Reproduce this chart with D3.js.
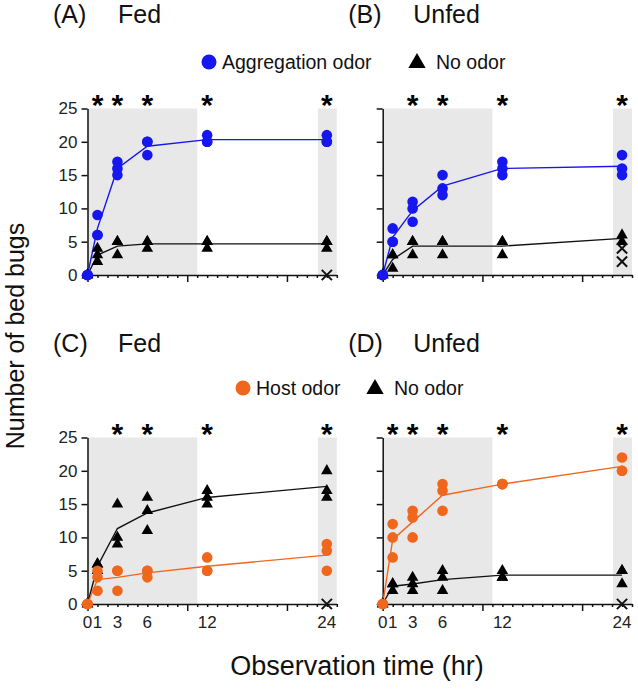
<!DOCTYPE html>
<html>
<head>
<meta charset="utf-8">
<script src="https://cdn.jsdelivr.net/npm/d3@7"></script>
<style>
  body { margin: 0; background: #fff; }
  text { font-family: "Liberation Sans", Arial, sans-serif; }
</style>
</head>
<body>
<script>
// observation times (hr)
const times = [0, 1, 3, 6, 12, 24];
const timeLabels = ["0", "1", "3", "6", "12", "24"];

// replicate counts per time point
const aggFed    = [[0,0,0],[9,6,6],[17,16,15],[20,20,18],[21,20,20],[21,20,20]];
const noOdorA   = [[0,0,0],[4,3,2],[5,5,3],[5,5,4],[5,5,4],[5,5,4]];
const crossA    = [0];
const aggUnfed  = [[0,0,0],[7,5,5],[11,10,8],[15,13,12],[17,16,15],[18,16,15]];
const noOdorB   = [[0,0,0],[3,3,1],[5,5,3],[5,5,3],[5,5,3],[6,5]];
const crossB    = [4, 2];
const hostFed   = [[0,0,0],[5,4,2],[5,5,2],[5,5,4],[7,5,5],[9,8,5]];
const noOdorC   = [[0,0,0],[6,6,5],[15,10,9],[16,14,11],[17,16,15],[20,17,16]];
const crossC    = [0];
const hostUnfed = [[0,0,0],[12,10,7],[14,13,10],[18,17,14],[18,18,18],[22,20,20]];
const noOdorD   = [[0,0,0],[3,3,2],[4,3,2],[5,4,2],[5,4,4],[5,5,3]];
const crossD    = [0];

// significant time points
const starsA = [1, 3, 6, 12, 24];
const starsB = [3, 6, 12, 24];
const starsC = [3, 6, 12, 24];
const starsD = [1, 3, 6, 12, 24];

// shaded (dark) periods, hr
const shaded = [[0, 11], [23.1, 25]];

const blue = "#1616ee", orange = "#f0661c";

const svg = d3.select("body").append("svg")
    .attr("width", 638)
    .attr("height", 689);

const panels = [
  {id: "(A)", title: "Fed",   x0: 87.5,  y0: 275, odor: aggFed,    color: blue,   none: noOdorA, cross: crossA, stars: starsA, left: true,  bottom: false},
  {id: "(B)", title: "Unfed", x0: 382.7, y0: 275, odor: aggUnfed,  color: blue,   none: noOdorB, cross: crossB, stars: starsB, left: false, bottom: false},
  {id: "(C)", title: "Fed",   x0: 87.5,  y0: 604, odor: hostFed,   color: orange, none: noOdorC, cross: crossC, stars: starsC, left: true,  bottom: true},
  {id: "(D)", title: "Unfed", x0: 382.7, y0: 604, odor: hostUnfed, color: orange, none: noOdorD, cross: crossD, stars: starsD, left: false, bottom: true}
];

const pw = 249.3, ph = 166.5;
const tri = d3.symbol().type(d3.symbolTriangle).size(58);
const crossSym = d3.symbol().type(d3.symbolTimes).size(70);

panels.forEach(p => {
  const x = d3.scaleLinear().domain([0, 25]).range([p.x0, p.x0 + pw]);
  const y = d3.scaleLinear().domain([0, 25]).range([p.y0, p.y0 - ph]);
  const g = svg.append("g");

  // gray bands
  g.selectAll(".band").data(shaded).join("rect")
      .attr("x", d => x(d[0]))
      .attr("width", d => x(d[1]) - x(d[0]))
      .attr("y", y(25))
      .attr("height", y(0) - y(25))
      .attr("fill", "#e8e8e8");

  // y axis
  const ya = g.append("g")
      .attr("transform", `translate(${p.x0},0)`)
      .call(d3.axisLeft(y).tickValues([0, 5, 10, 15, 20, 25]).tickSize(6).tickSizeOuter(0).tickPadding(4)
        .tickFormat(p.left ? d3.format("d") : () => ""));
  ya.selectAll("text").style("font-size", "17px").attr("fill", "#222");

  // x axis, minor ticks every hour
  const xa = g.append("g")
      .attr("transform", `translate(0,${p.y0})`)
      .call(d3.axisBottom(x).tickValues(d3.range(0, 26)).tickSize(3).tickSizeOuter(0).tickFormat(() => ""));
  xa.selectAll(".tick line").attr("y2", d => d % 10 === 0 ? 7 : 3);
  g.selectAll(".domain, .tick line").attr("stroke", "#111").attr("stroke-width", 1.5);

  if (p.bottom) {
    g.selectAll(".xlab").data(times).join("text")
        .attr("x", d => x(d))
        .attr("y", p.y0 + 24)
        .attr("text-anchor", "middle")
        .style("font-size", "17px")
        .attr("fill", "#222")
        .text((d, i) => timeLabels[i]);
  }

  // panel title
  g.append("text").attr("x", p.x0 - 34.5).attr("y", p.y0 - 252)
      .style("font-size", "25px").attr("fill", "#111").text(p.id);
  g.append("text").attr("x", p.x0 + 30.5).attr("y", p.y0 - 252)
      .style("font-size", "25px").attr("fill", "#111").text(p.title);

  // asterisks
  g.selectAll(".star").data(p.stars).join("text")
      .attr("x", d => x(d))
      .attr("y", y(25) + 6)
      .attr("text-anchor", "middle")
      .style("font-size", "30px").style("font-weight", "bold")
      .text("*");

  // mean lines
  const line = d3.line().x(d => x(d.t)).y(d => y(d.m));
  const meanOf = arr => arr.map((v, i) => ({t: times[i], m: d3.mean(v)}));
  g.append("path").datum(meanOf(p.none))
      .attr("d", line).attr("fill", "none").attr("stroke", "#111").attr("stroke-width", 1.4);
  g.append("path").datum(meanOf(p.odor))
      .attr("d", line).attr("fill", "none").attr("stroke", p.color).attr("stroke-width", 1.4);

  const flat = arr => arr.flatMap((v, i) => v.map(c => ({t: times[i], c})));

  // no odor triangles
  g.selectAll(".tri").data(flat(p.none)).join("path")
      .attr("d", tri)
      .attr("transform", d => `translate(${x(d.t)},${y(d.c)})`)
      .attr("fill", "#000");

  // crosses at 24 hr
  g.selectAll(".cross").data(p.cross).join("path")
      .attr("d", crossSym)
      .attr("transform", d => `translate(${x(24)},${y(d)})`)
      .attr("stroke", "#111").attr("stroke-width", 2).attr("fill", "none");

  // odor circles
  g.selectAll(".dot").data(flat(p.odor)).join("circle")
      .attr("cx", d => x(d.t))
      .attr("cy", d => y(d.c))
      .attr("r", 5.3)
      .attr("fill", p.color);
});

// legends
const legends = [
  {y: 62,  label: "Aggregation odor", color: blue,   cx: 209, tx: 417},
  {y: 388, label: "Host odor",        color: orange, cx: 243, tx: 375}
];
legends.forEach(l => {
  svg.append("circle").attr("cx", l.cx).attr("cy", l.y).attr("r", 7.5).attr("fill", l.color);
  svg.append("text").attr("x", l.cx + 13).attr("y", l.y + 7)
      .style("font-size", "19.5px").attr("fill", "#111").text(l.label);
  svg.append("path").attr("d", d3.symbol().type(d3.symbolTriangle).size(130))
      .attr("transform", `translate(${l.tx},${l.y + 1})`).attr("fill", "#000");
  svg.append("text").attr("x", l.tx + 19).attr("y", l.y + 7)
      .style("font-size", "19.5px").attr("fill", "#111").text("No odor");
});

// axis titles
svg.append("text")
    .attr("transform", "translate(24,336) rotate(-90)")
    .attr("text-anchor", "middle")
    .style("font-size", "25px").attr("fill", "#111")
    .text("Number of bed bugs");
svg.append("text")
    .attr("x", 357).attr("y", 675)
    .attr("text-anchor", "middle")
    .style("font-size", "27px").attr("fill", "#111")
    .text("Observation time (hr)");
</script>
</body>
</html>
